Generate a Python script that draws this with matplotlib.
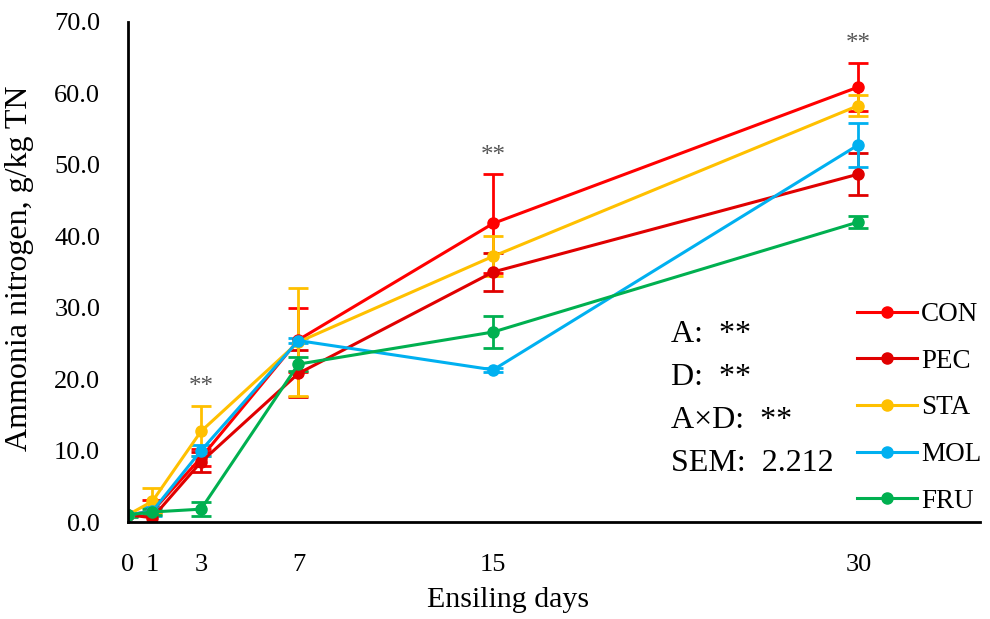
import numpy as np
import matplotlib
matplotlib.use("Agg")
import matplotlib.pyplot as plt

plt.rcParams['font.family'] = ['Liberation Serif', 'DejaVu Serif']

days = [0, 1, 3, 7, 15, 30]
groups = ["CON", "PEC", "STA", "MOL", "FRU"]
colors = ["#FF0000", "#E00000", "#FFC000", "#00B0F0", "#00B050"]

con = [1.0, 1.5, 9.0, 25.5, 41.8, 60.9]
pec = [1.0, 0.6, 8.4, 20.8, 35.0, 48.7]
sta = [1.0, 2.9, 12.7, 25.2, 37.2, 58.3]
mol = [1.0, 1.5, 10.0, 25.4, 21.3, 52.8]
fru = [1.0, 1.4, 1.8, 22.1, 26.6, 42.0]

con_err = [0.2, 1.6, 1.2, 4.5, 6.9, 3.3]
pec_err = [0.2, 0.8, 1.4, 3.3, 2.6, 2.9]
sta_err = [0.2, 1.8, 3.5, 7.6, 2.8, 1.5]
mol_err = [0.2, 0.6, 0.8, 0.4, 0.3, 3.1]
fru_err = [0.3, 0.4, 1.0, 1.0, 2.3, 0.8]

series = [con, pec, sta, mol, fru]
errors = [con_err, pec_err, sta_err, mol_err, fru_err]

# significance marks above the highest error bar
sig_days = [3, 15, 30]
sig_y = [17.3, 49.7, 65.4]

stats_text = ["A:  **", "D:  **", "A\u00d7D:  **", "SEM:  2.212"]

fig = plt.figure(figsize=(9.9, 6.19), dpi=100)
ax = fig.add_axes([0.1293, 0.1567, 0.8607, 0.8078])

for name, c, y, e in zip(groups, colors, series, errors):
    ax.errorbar(days, y, yerr=e, color=c, marker='o', markersize=8,
                linewidth=2.2, elinewidth=2, capsize=7, capthick=2, label=name)

for d, yy in zip(sig_days, sig_y):
    ax.text(d, yy, "**", ha='center', va='bottom', fontsize=18, color='#555555')

for i, s in enumerate(stats_text):
    ax.text(22.3, 26.2 - i * 6.0, s, ha='left', va='center', fontsize=23)

ax.set_xlim(0, 35)
ax.set_ylim(0, 70)
ax.set_xticks(days)
ax.set_xticklabels([str(d) for d in days])
ax.set_yticks(np.arange(0, 71, 10))
ax.set_yticklabels(["%.1f" % v for v in np.arange(0, 71, 10)])
ax.tick_params(axis='x', length=0, pad=23, labelsize=19)
ax.tick_params(axis='y', length=0, pad=20, labelsize=19)
for s in ['top', 'right']:
    ax.spines[s].set_visible(False)
for s in ['left', 'bottom']:
    ax.spines[s].set_linewidth(2)
    ax.spines[s].set_color('black')

ax.set_xlabel("Ensiling days", fontsize=21.5)
ax.set_ylabel("Ammonia nitrogen, g/kg TN", fontsize=23)
ax.xaxis.set_label_coords(0.446, -0.13)
ax.yaxis.set_label_coords(-0.11, 0.508)

handles, labels = ax.get_legend_handles_labels()
handles = [h[0] for h in handles]
ax.legend(handles, labels, loc='lower right', bbox_to_anchor=(1.014, -0.005),
          frameon=False, fontsize=19.5, handlelength=2.2, handletextpad=0.15,
          labelspacing=0.8, borderaxespad=0.0)

fig.savefig("out.png", dpi=100)
